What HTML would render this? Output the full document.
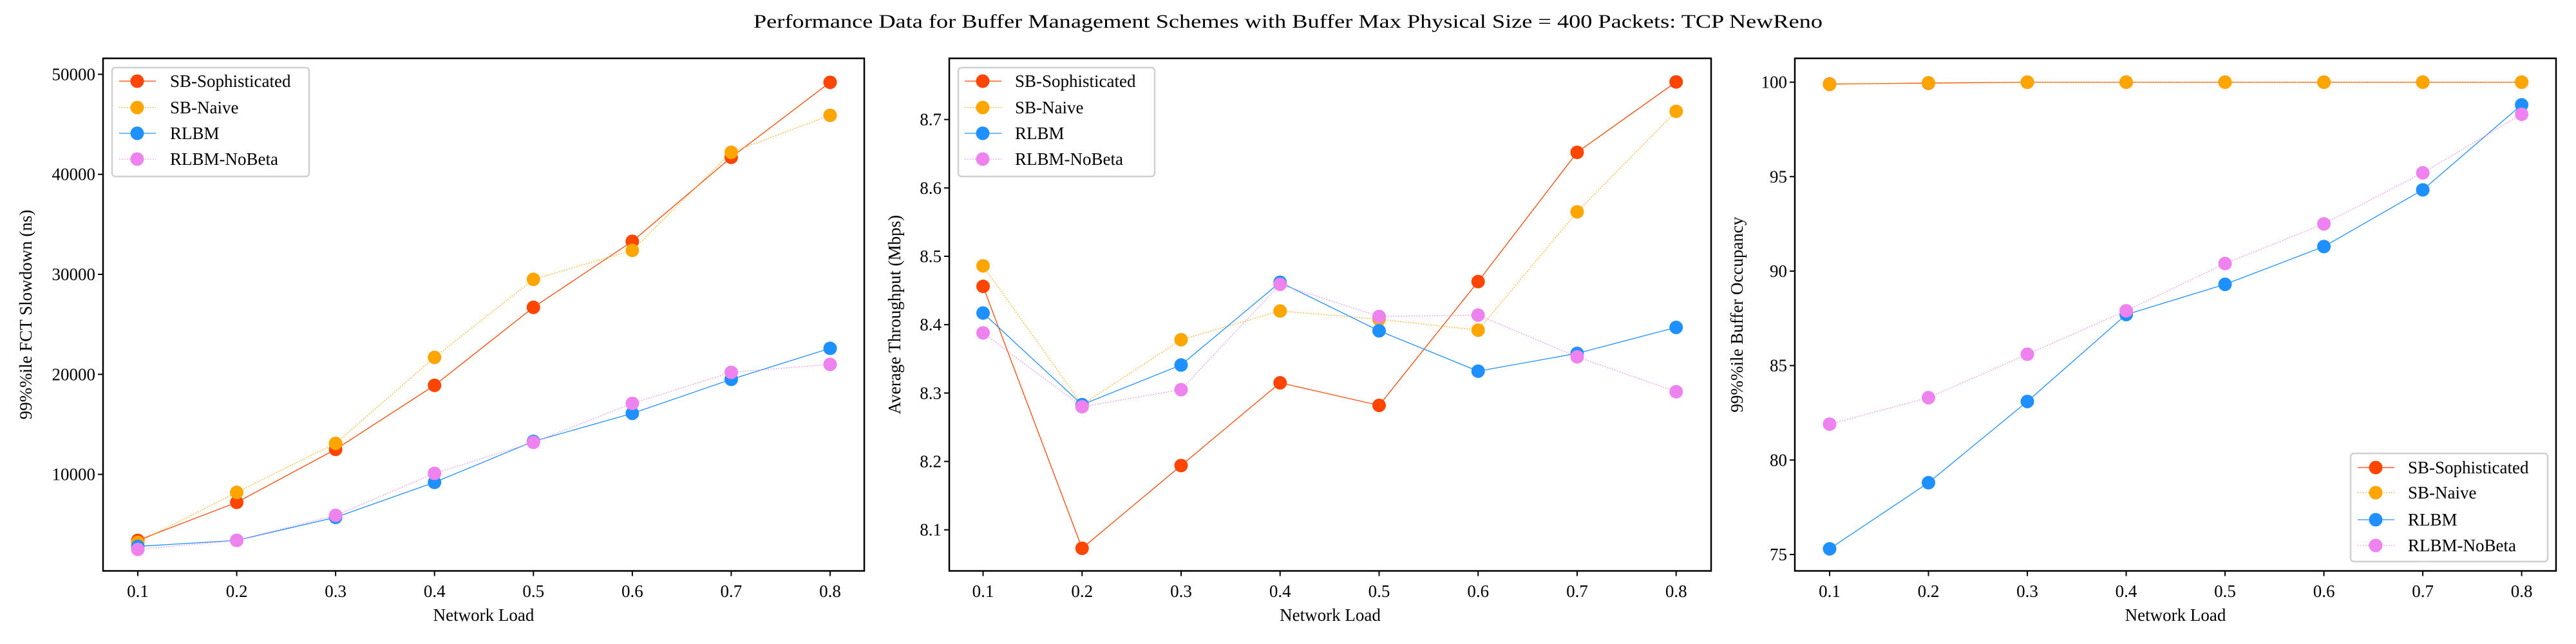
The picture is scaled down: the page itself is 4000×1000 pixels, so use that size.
<!DOCTYPE html>
<html><head><meta charset="utf-8"><style>
html,body{margin:0;padding:0;background:#fff;}
svg{display:block;font-family:"Liberation Serif",serif;}
</style></head><body>
<svg id="chart" width="4000" height="1000" viewBox="0 0 4000 1000">
<rect width="4000" height="1000" fill="#fff"/>
<text x="2000" y="43" text-anchor="middle" font-size="30" textLength="1660" lengthAdjust="spacingAndGlyphs">Performance Data for Buffer Management Schemes with Buffer Max Physical Size = 400 Packets: TCP NewReno</text>
</svg>
<script>
const loads = [0.1,0.2,0.3,0.4,0.5,0.6,0.7,0.8];
const seriesNames = ["SB-Sophisticated","SB-Naive","RLBM","RLBM-NoBeta"];
const fctSBS = [3400,7200,12500,18900,26700,33300,41700,49200];
const fctNaive = [3200,8200,13100,21700,29500,32400,42200,45900];
const fctRLBM = [2800,3400,5700,9200,13300,16100,19500,22600];
const fctNoBeta = [2500,3400,5900,10100,13200,17100,20200,21000];
const thrSBS = [8.456,8.073,8.194,8.315,8.282,8.463,8.652,8.755];
const thrNaive = [8.486,8.283,8.378,8.420,8.408,8.392,8.565,8.712];
const thrRLBM = [8.417,8.283,8.341,8.462,8.391,8.332,8.358,8.396];
const thrNoBeta = [8.388,8.280,8.305,8.459,8.412,8.414,8.353,8.302];
const occSBS = [99.9,99.95,100,100,100,100,100,100];
const occNaive = [99.88,99.97,100,100,100,100,100,100];
const occRLBM = [75.3,78.8,83.1,87.7,89.3,91.3,94.3,98.8];
const occNoBeta = [81.9,83.3,85.6,87.9,90.4,92.5,95.2,98.3];
const fctTicks = [10000,20000,30000,40000,50000];
const thrTicks = [8.1,8.2,8.3,8.4,8.5,8.6,8.7];
const occTicks = [75,80,85,90,95,100];
const xTicks = [0.1,0.2,0.3,0.4,0.5,0.6,0.7,0.8];

const NS="http://www.w3.org/2000/svg";
const svg=document.getElementById('chart');
function mk(tag,attrs,parent){const e=document.createElementNS(NS,tag);for(const k in attrs)e.setAttribute(k,attrs[k]);(parent||svg).appendChild(e);return e;}
const colors=["#ff4500","#ffa500","#1e90ff","#ee82ee"];
const dashes=[null,"1.5,2.5",null,"1.5,2.5"];

const panels=[
 {name:"fct",left:160,right:1342,x0:214,x1:1289,v0:10000,p0:736.6,v1:50000,p1:115.4,ticks:fctTicks,fmt:v=>String(v),data:[fctSBS,fctNaive,fctRLBM,fctNoBeta],ylabel:"99%%ile FCT Slowdown (ns)",ylx:40,leg:{x:174,y:105,w:306,h:169,lx:185,mx:213,tx:264,ys:[126,167,207,247]}},
 {name:"throughput",left:1474,right:2657,x0:1526.5,x1:2602.7,v0:8.1,p0:822.7,v1:8.7,p1:185.6,ticks:thrTicks,fmt:v=>v.toFixed(1),data:[thrSBS,thrNaive,thrRLBM,thrNoBeta],ylabel:"Average Throughput (Mbps)",ylx:1389,leg:{x:1488,y:105,w:305,h:169,lx:1498,mx:1526,tx:1576,ys:[126,167,207,247]}},
 {name:"occupancy",left:2787,right:3969,x0:2841,x1:3915.6,v0:75,p0:861,v1:100,p1:127.6,ticks:occTicks,fmt:v=>String(v),data:[occSBS,occNaive,occRLBM,occNoBeta],ylabel:"99%%ile Buffer Occupancy",ylx:2697,leg:{x:3650,y:704,w:306,h:168,lx:3661,mx:3689,tx:3739,ys:[726,765,807,847]}}
];
const plotTop=90.6,plotBottom=886.5;
panels.forEach(P=>{
 const g=mk('g',{});
 
 
 const xs=v=>P.x0+(v-0.1)/(0.7)*(P.x1-P.x0);
 const ys=v=>P.p0+(v-P.v0)/(P.v1-P.v0)*(P.p1-P.p0);
 xTicks.forEach(t=>{
  const l=mk('line',{x1:xs(t),x2:xs(t),y1:plotBottom,y2:plotBottom+8,stroke:"#000","stroke-width":2},g);
  
  
  const tx=mk('text',{x:xs(t),y:927,"text-anchor":"middle","font-size":27},g);
  tx.textContent=t.toFixed(1);
  
  
 });
 P.ticks.forEach(t=>{
  const l=mk('line',{x1:P.left-8,x2:P.left,y1:ys(t),y2:ys(t),stroke:"#000","stroke-width":2},g);
  
  
  const tx=mk('text',{x:P.left-12,y:ys(t)+9,"text-anchor":"end","font-size":27},g);
  tx.textContent=P.fmt(t);
  
  
 });
 const xl=mk('text',{x:(P.left+P.right)/2,y:964,"text-anchor":"middle","font-size":27},g);
 xl.textContent="Network Load";
 
 
 const cy=(plotTop+plotBottom)/2;
 const yl=mk('text',{x:P.ylx,y:cy,"text-anchor":"middle","font-size":27,transform:`rotate(-90 ${P.ylx} ${cy})`,dy:9},g);
 yl.textContent=P.ylabel;
 
 
 P.data.forEach((arr,i)=>{
  const sg=mk('g',{},g);
  
  
  const pts=arr.map((v,j)=>xs(loads[j])+","+ys(v)).join(" ");
  const attrs={points:pts,fill:"none",stroke:colors[i],"stroke-width":1.3};
  if(dashes[i])attrs["stroke-dasharray"]=dashes[i];
  const pl=mk('polyline',attrs,sg);
  
  
  arr.forEach((v,j)=>{
   const c=mk('circle',{cx:xs(loads[j]),cy:ys(v),r:10.5,fill:colors[i]},sg);
   
   
  });
 });
 const fr=mk('rect',{x:P.left,y:plotTop,width:P.right-P.left,height:plotBottom-plotTop,fill:"none",stroke:"#000","stroke-width":2.5},g);
 
 
 const L=P.leg;
 const lg=mk('g',{},g);
 
 
 mk('rect',{x:L.x,y:L.y,width:L.w,height:L.h,rx:5,fill:"#fff","fill-opacity":0.85,stroke:"#d0d0d0","stroke-width":2.5},lg);
 seriesNames.forEach((n,i)=>{
  const eg=mk('g',{},lg);
  
  
  const a={x1:L.lx,x2:L.lx+57,y1:L.ys[i],y2:L.ys[i],stroke:colors[i],"stroke-width":1.3};
  if(dashes[i])a["stroke-dasharray"]=dashes[i];
  mk('line',a,eg);
  mk('circle',{cx:L.mx,cy:L.ys[i],r:10.5,fill:colors[i]},eg);
  const t=mk('text',{x:L.tx,y:L.ys[i]+9,"font-size":27},eg);
  t.textContent=n;
 });
});
</script>
</body></html>
